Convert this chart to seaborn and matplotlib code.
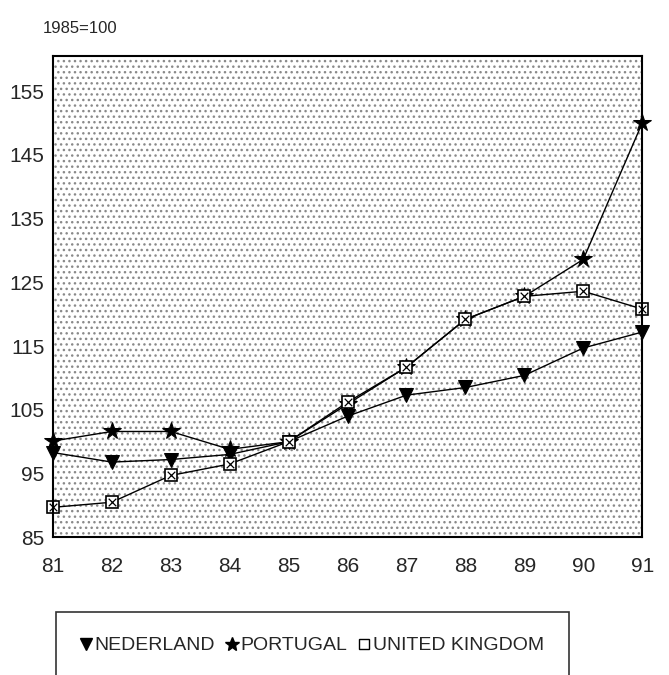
import matplotlib
matplotlib.use("Agg")
import matplotlib.pyplot as plt
import seaborn as sns
import pandas as pd
from matplotlib.lines import Line2D

years = [81, 82, 83, 84, 85, 86, 87, 88, 89, 90, 91]
nederland = [98.3, 96.8, 97.2, 98.0, 100.0, 104.0, 107.3, 108.5, 110.4, 114.7, 117.2]
portugal = [100.1, 101.6, 101.6, 98.8, 100.0, 105.9, 111.7, 119.2, 122.8, 128.6, 150.0]
united_kingdom = [89.7, 90.5, 94.7, 96.5, 100.0, 106.2, 111.7, 119.2, 122.8, 123.6, 120.8]
series_names = ["NEDERLAND", "PORTUGAL", "UNITED KINGDOM"]
y_ticks = [85, 95, 105, 115, 125, 135, 145, 155]
x_ticks = years
subtitle = "1985=100"

df = pd.DataFrame({
    "year": years * 3,
    "value": nederland + portugal + united_kingdom,
    "country": [series_names[0]] * 11 + [series_names[1]] * 11 + [series_names[2]] * 11,
})

sns.set_theme(style="white")
plt.rcParams["font.family"] = ["Liberation Sans", "DejaVu Sans"]

fig = plt.figure(figsize=(6.69, 6.75), dpi=100)
ax = fig.add_axes([0.079, 0.204, 0.881, 0.713])

ax.set_facecolor("#ffffff")
ax.patch.set_hatch("...")
ax.patch.set_edgecolor("#8a8a8a")
ax.patch.set_linewidth(0)

markers = {"NEDERLAND": "v", "PORTUGAL": "*", "UNITED KINGDOM": "s"}
sns.lineplot(data=df, x="year", y="value", hue="country", style="country",
             palette={n: "black" for n in series_names}, markers=markers,
             dashes=False, linewidth=1.0, markersize=10, ax=ax, legend=False)

for line in ax.get_lines():
    line.set_markeredgecolor("black")
    line.set_clip_on(False)
    if line.get_marker() == "s":
        line.set_markerfacecolor("white")
        line.set_markersize(9)
        line.set_markeredgewidth(1.2)
    elif line.get_marker() == "*":
        line.set_markersize(13)
        line.set_markerfacecolor("black")
    else:
        line.set_markerfacecolor("black")

uk = df[df["country"] == "UNITED KINGDOM"]
ax.scatter(uk["year"], uk["value"], marker="x", s=30, color="black",
           linewidths=0.9, zorder=5, clip_on=False)

ax.set_xlim(81, 91)
ax.set_ylim(85, 160.5)
ax.set_xticks(x_ticks)
ax.set_xticklabels([str(y) for y in x_ticks], fontsize=15)
ax.set_yticks(y_ticks)
ax.set_yticklabels([str(v) for v in y_ticks], fontsize=15)
ax.tick_params(axis="y", length=0, pad=6)
ax.tick_params(axis="x", length=0, pad=14)
ax.set_xlabel("")
ax.set_ylabel("")
for s in ax.spines.values():
    s.set_visible(True)
    s.set_color("black")
    s.set_linewidth(1.5)

fig.text(0.064, 0.958, subtitle, fontsize=12, ha="left", va="center")

handles = [
    Line2D([], [], marker="v", color="black", linestyle="none", markersize=8),
    Line2D([], [], marker="*", color="black", linestyle="none", markersize=10),
    Line2D([], [], marker="s", markerfacecolor="white", markeredgecolor="black",
           linestyle="none", markersize=7),
]
leg = fig.legend(handles, series_names, loc="upper center", bbox_to_anchor=(0.467, 0.094),
                 ncol=3, frameon=True, fontsize=14, handlelength=0.5, handletextpad=0.2,
                 columnspacing=0.6, borderpad=1.3, borderaxespad=0, fancybox=False)
leg.get_frame().set_edgecolor("black")
leg.get_frame().set_linewidth(1.2)

fig.savefig("out.png", dpi=100, facecolor="white")
